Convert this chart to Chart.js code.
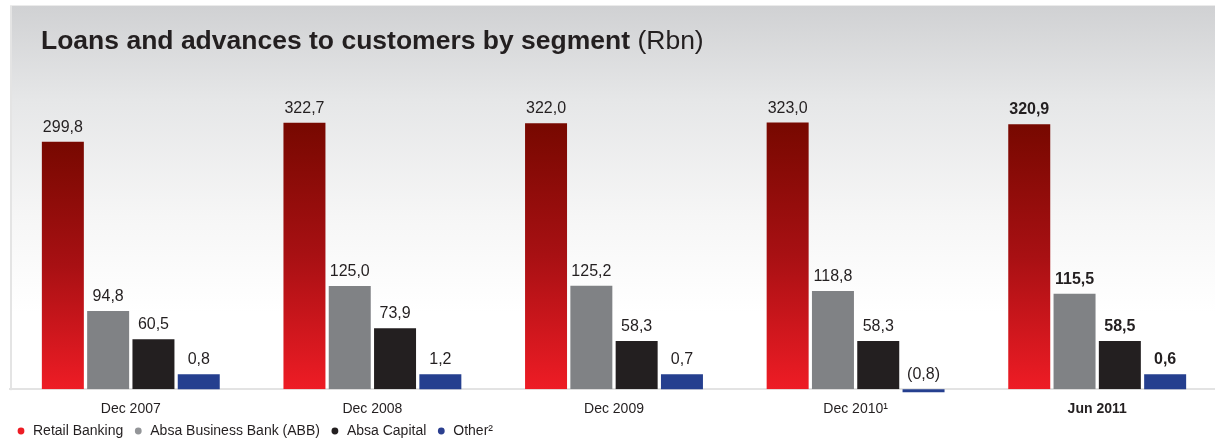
<!DOCTYPE html>
<html>
<head>
<meta charset="utf-8">
<script src="https://cdn.jsdelivr.net/npm/chart.js@4/dist/chart.umd.min.js"></script>
<style>
  html, body { margin: 0; padding: 0; background: #ffffff; overflow: hidden; }
  #wrap { position: relative; width: 1222px; height: 443px; }
</style>
</head>
<body>
<div id="wrap"><canvas id="chart"></canvas></div>
<script>
// Loans and advances to customers by segment (Rbn)
const categories = ['Dec 2007', 'Dec 2008', 'Dec 2009', 'Dec 2010\u00B9', 'Jun 2011'];
const retailBanking = [299.8, 322.7, 322.0, 323.0, 320.9];
const absaBusinessBank = [94.8, 125.0, 125.2, 118.8, 115.5];
const absaCapital = [60.5, 73.9, 58.3, 58.3, 58.5];
const other = [0.8, 1.2, 0.7, -0.8, 0.6];
const seriesNames = ['Retail Banking', 'Absa Business Bank (ABB)', 'Absa Capital', 'Other\u00B2'];
const legendColors = ['#ed1c24', '#939598', '#231f20', '#2b3f8f'];
const titleBold = 'Loans and advances to customers by segment';
const titleUnit = '(Rbn)';

const FONT = "'Liberation Sans', Arial, Helvetica, sans-serif";
const TEXT = '#231f20';
const LATEST = categories.length - 1;

function fmt(v) {
  const s = Math.abs(v).toFixed(1).replace('.', ',');
  return v < 0 ? '(' + s + ')' : s;
}

// Per-bar vertical gradient for the retail series
function retailFill(ctx) {
  const chart = ctx.chart;
  if (!chart.chartArea || ctx.type !== 'data') return '#c01418';
  const y = chart.scales.y;
  const top = y.getPixelForValue(ctx.raw);
  const bottom = y.getPixelForValue(0);
  const g = chart.ctx.createLinearGradient(0, top, 0, bottom);
  g.addColorStop(0, '#770800');
  g.addColorStop(0.5, '#a81013');
  g.addColorStop(1, '#ee1c25');
  return g;
}

// Grey panel behind the plot, plus the heading
const panelPlugin = {
  id: 'panel',
  beforeDraw(chart) {
    const { ctx, chartArea, width } = chart;
    ctx.save();
    ctx.fillStyle = '#ffffff';
    ctx.fillRect(0, 0, width, chart.height);
    const top = 5;
    const g = ctx.createLinearGradient(0, top, 0, chartArea.bottom);
    g.addColorStop(0, '#d0d1d3');
    g.addColorStop(0.25, '#e6e7e8');
    g.addColorStop(0.55, '#f6f6f6');
    g.addColorStop(0.8, '#ffffff');
    g.addColorStop(1, '#ffffff');
    ctx.fillStyle = g;
    ctx.fillRect(chartArea.left, top + 1, width - chartArea.left, chartArea.bottom - top);
    ctx.fillStyle = '#ebebeb';
    ctx.fillRect(chartArea.left, top, width - chartArea.left, 1);
    ctx.fillStyle = '#e4e4e4';
    ctx.fillRect(chartArea.left, top + 1, 2, chartArea.bottom - top);

    ctx.fillStyle = TEXT;
    ctx.textBaseline = 'alphabetic';
    ctx.textAlign = 'left';
    ctx.font = 'bold 26.5px ' + FONT;
    const tx = 41, ty = 49;
    ctx.fillText(titleBold, tx, ty);
    const w = ctx.measureText(titleBold + ' ').width;
    ctx.font = '26.5px ' + FONT;
    ctx.fillText(titleUnit, tx + w, ty);
    ctx.restore();
  }
};

// Value captions above each bar
const valueLabelPlugin = {
  id: 'valueLabels',
  afterDatasetsDraw(chart) {
    const { ctx } = chart;
    ctx.save();
    ctx.fillStyle = TEXT;
    ctx.textAlign = 'center';
    ctx.textBaseline = 'alphabetic';
    chart.data.datasets.forEach((ds, di) => {
      const meta = chart.getDatasetMeta(di);
      meta.data.forEach((bar, i) => {
        const top = Math.min(bar.y, bar.base);
        ctx.font = (i === LATEST ? 'bold ' : '') + '16px ' + FONT;
        ctx.fillText(fmt(ds.data[i]), bar.x, top - 10);
      });
    });
    ctx.restore();
  }
};

// Dot legend along the bottom edge
const dotLegendPlugin = {
  id: 'dotLegend',
  afterDraw(chart) {
    const { ctx } = chart;
    ctx.save();
    ctx.font = '14px ' + FONT;
    ctx.textBaseline = 'middle';
    ctx.textAlign = 'left';
    let x = 21;
    const y = 431;
    chart.data.datasets.forEach((ds, i) => {
      ctx.fillStyle = legendColors[i];
      ctx.beginPath();
      ctx.arc(x, y, 3.4, 0, Math.PI * 2);
      ctx.fill();
      ctx.fillStyle = TEXT;
      ctx.fillText(ds.label, x + 12, y);
      x += 12 + ctx.measureText(ds.label).width + 15;
    });
    ctx.restore();
  }
};

new Chart(document.getElementById('chart'), {
  type: 'bar',
  data: {
    labels: categories,
    datasets: [
      { label: seriesNames[0], data: retailBanking, backgroundColor: retailFill },
      { label: seriesNames[1], data: absaBusinessBank, backgroundColor: '#808285' },
      { label: seriesNames[2], data: absaCapital, backgroundColor: '#231f20' },
      { label: seriesNames[3], data: other, backgroundColor: '#253f8f', minBarLength: 15,
        clip: { left: false, top: false, right: false, bottom: 3 } }
    ]
  },
  options: {
    responsive: true,
    maintainAspectRatio: false,
    animation: false,
    events: [],
    layout: { padding: { left: 10, right: 4, top: 92, bottom: 13 } },
    datasets: { bar: { categoryPercentage: 0.75, barPercentage: 0.927, borderWidth: 0 } },
    plugins: {
      legend: { display: false },
      title: { display: false },
      tooltip: { enabled: false }
    },
    scales: {
      x: {
        grid: { display: false, drawTicks: false },
        border: { display: true, color: '#e3e3e3', width: 2 },
        ticks: {
          padding: 12,
          color: TEXT,
          font: (c) => ({ family: FONT, size: 14, weight: c.index === LATEST ? 'bold' : 'normal' })
        }
      },
      y: {
        display: false,
        min: 0,
        max: 360
      }
    }
  },
  plugins: [panelPlugin, valueLabelPlugin, dotLegendPlugin]
});
</script>
</body>
</html>
